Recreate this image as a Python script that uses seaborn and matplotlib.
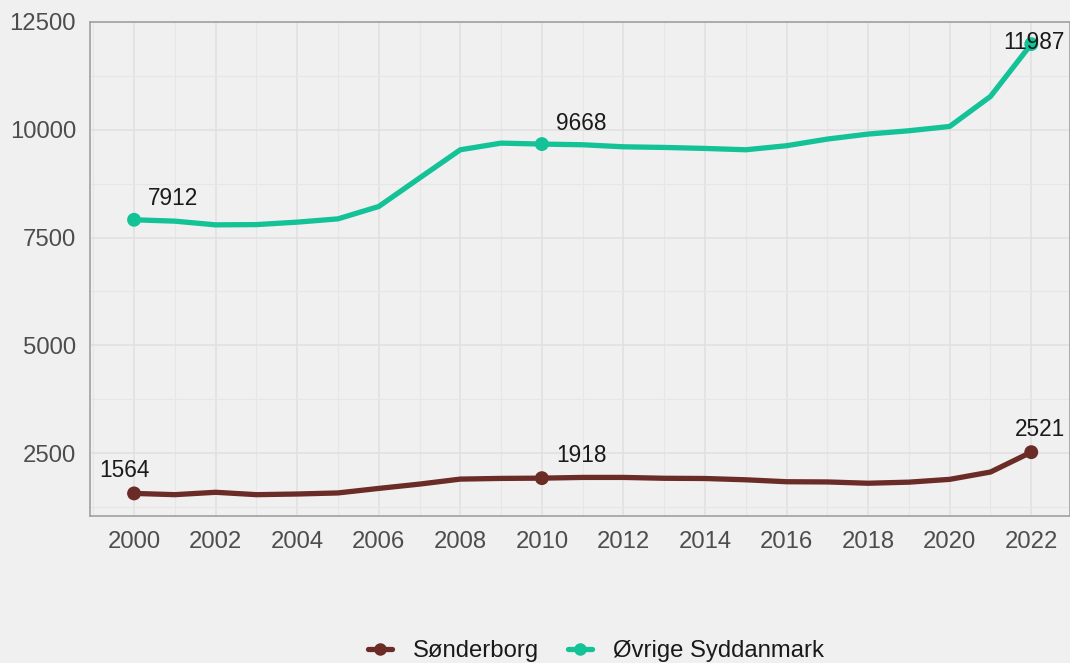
import pandas as pd
import numpy as np
import matplotlib.pyplot as plt
import seaborn as sns
from matplotlib.ticker import MultipleLocator
from matplotlib.lines import Line2D

# Data
years = list(range(2000, 2023))
soenderborg = [1564, 1535, 1590, 1535, 1550, 1575, 1680, 1780, 1896, 1912, 1918,
               1935, 1935, 1915, 1910, 1880, 1835, 1830, 1800, 1825, 1890, 2060, 2521]
oevrige = [7912, 7880, 7794, 7800, 7857, 7933, 8220, 8880, 9536, 9690, 9668,
           9652, 9605, 9590, 9567, 9536, 9630, 9784, 9900, 9977, 10077, 10773, 11987]
series_names = ["Sønderborg", "Øvrige Syddanmark"]
colors = ["#6B2B27", "#13C296"]
label_years = [2000, 2010, 2022]

df = pd.DataFrame({
    "year": years * 2,
    "value": soenderborg + oevrige,
    "region": [series_names[0]] * len(years) + [series_names[1]] * len(years),
})

sns.set_theme(style="whitegrid")
plt.rcParams["font.family"] = ["Liberation Sans", "DejaVu Sans"]

fig = plt.figure(figsize=(10.7, 6.63), dpi=100, facecolor="#F0F0F0")
ax = fig.add_axes([90 / 1070, 1 - 516 / 663, 1 - 90 / 1070, (516 - 22) / 663])
ax.set_facecolor("#F0F0F0")

palette = dict(zip(series_names, colors))
sns.lineplot(data=df, x="year", y="value", hue="region", palette=palette,
             linewidth=3.8, legend=False, ax=ax)

pts = df[df["year"].isin(label_years)]
sns.scatterplot(data=pts, x="year", y="value", hue="region", palette=palette,
                s=100, edgecolor="none", legend=False, ax=ax, zorder=5)

# value labels (offsets in pixels)
offsets = {
    (series_names[1], 2000): (14, 10, "left", "bottom"),
    (series_names[1], 2010): (14, 9, "left", "bottom"),
    (series_names[1], 2022): (3, 2, "center", "center"),
    (series_names[0], 2000): (-10, 11, "center", "bottom"),
    (series_names[0], 2010): (14, 11, "left", "bottom"),
    (series_names[0], 2022): (9, 11, "center", "bottom"),
}
for _, r in pts.iterrows():
    dx, dy, ha, va = offsets[(r["region"], r["year"])]
    ax.annotate(str(int(r["value"])), (r["year"], r["value"]),
                xytext=(dx, dy), textcoords="offset pixels",
                ha=ha, va=va, fontsize=16.3, color="#1a1a1a", zorder=6)

ax.set_xlim(1998.92, 2022.95)
ax.set_ylim(1040, 12500)
ax.set_xticks(range(2000, 2023, 2))
ax.set_yticks([2500, 5000, 7500, 10000, 12500])
ax.xaxis.set_minor_locator(MultipleLocator(1))
ax.yaxis.set_minor_locator(MultipleLocator(1250))
ax.grid(which="major", color="#E0E0E0", linewidth=1.1)
ax.grid(which="minor", color="#E6E6E6", linewidth=0.8)
ax.tick_params(axis="both", which="both", length=0, labelsize=17.2,
               labelcolor="#4D4D4D")
ax.tick_params(axis="x", pad=11)
ax.tick_params(axis="y", pad=10)
ax.set_xlabel("")
ax.set_ylabel("")
for sp in ax.spines.values():
    sp.set_color("#A0A0A0")
    sp.set_linewidth(1.2)

handles = [Line2D([0], [0], color=c, lw=3.8, marker="o", markersize=8)
           for c in colors]
fig.legend(handles, series_names, loc="center", bbox_to_anchor=(0.557, 0.018),
           ncol=2, frameon=False, fontsize=17.2, handlelength=1.0,
           columnspacing=1.2, handletextpad=0.9, labelcolor="#1a1a1a")

fig.savefig("out.png", dpi=100, facecolor=fig.get_facecolor())
